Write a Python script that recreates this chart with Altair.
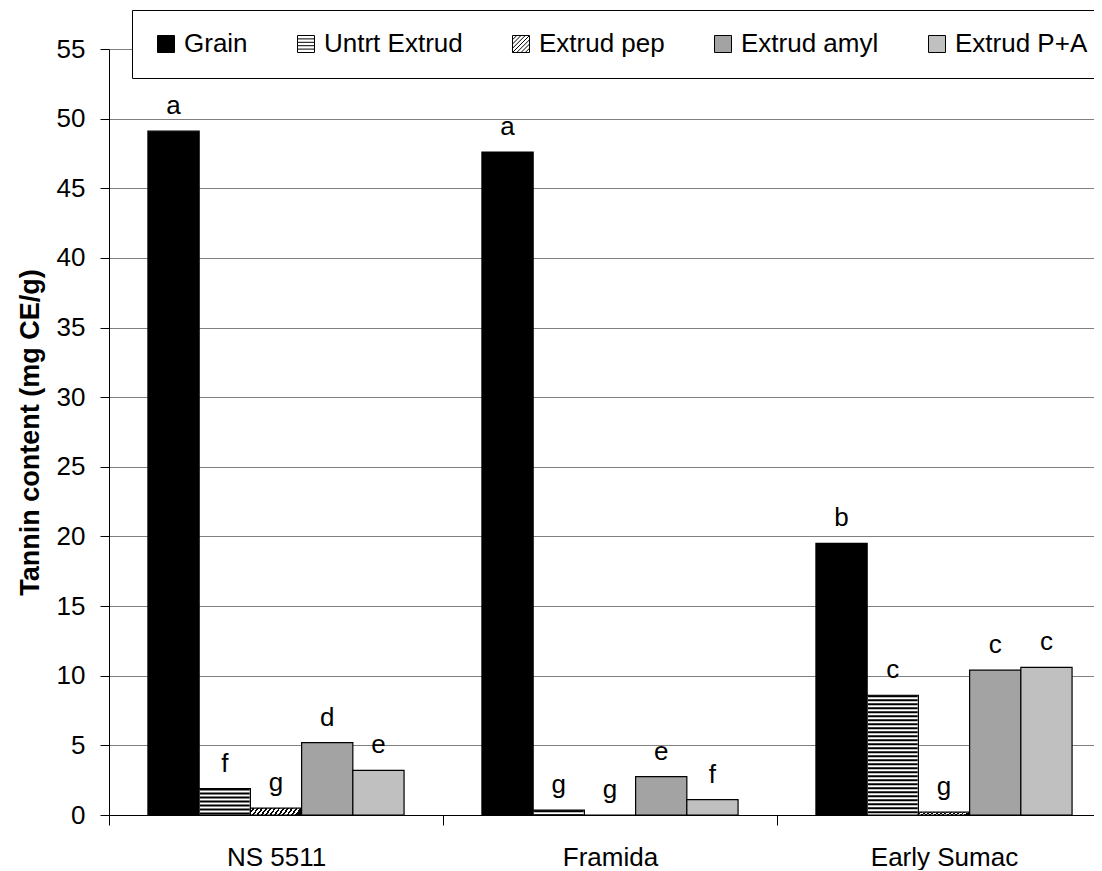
import altair as alt
import pandas as pd

# ---------------- data ----------------
categories = ["NS 5511", "Framida", "Early Sumac"]
series = ["Grain", "Untrt Extrud", "Extrud pep", "Extrud amyl", "Extrud P+A"]

grain = [49.1, 47.6, 19.5]
untrt = [1.9, 0.35, 8.6]
pep = [0.5, 0.0, 0.2]
amyl = [5.2, 2.75, 10.4]
pa = [3.2, 1.1, 10.6]

grain_letters = ["a", "a", "b"]
untrt_letters = ["f", "g", "c"]
pep_letters = ["g", "g", "g"]
amyl_letters = ["d", "e", "c"]
pa_letters = ["e", "f", "c"]

values = [grain, untrt, pep, amyl, pa]
letters = [grain_letters, untrt_letters, pep_letters, amyl_letters, pa_letters]

rows = []
for s, vals, lets in zip(series, values, letters):
    for c, v, l in zip(categories, vals, lets):
        rows.append({"category": c, "series": s, "value": v, "letter": l})
df = pd.DataFrame(rows)

# ---------------- styling ----------------
FONT = "Liberation Sans"
W, H = 985, 766
BAND_RANGE = 1002
OUTER = 0.76
BAR_W = BAND_RANGE / 3 / (5 + 2 * OUTER)

n = 12
stops = []
for i in range(n):
    a = i / n
    b = (i + 0.55) / n
    c = (i + 1) / n
    stops += [
        {"offset": a, "color": "white"},
        {"offset": b, "color": "white"},
        {"offset": b, "color": "black"},
        {"offset": c, "color": "black"},
    ]
pep_grad = {"gradient": "linear", "x1": 0, "y1": 0, "x2": 1, "y2": 0.1, "stops": stops}

AMYL = "#a3a3a3"
PA = "#c0c0c0"

bar_fill = alt.value(
    "white",
    condition=[
        {"test": "datum.series === 'Grain'", "value": "black"},
        {"test": "datum.series === 'Extrud pep'", "value": pep_grad},
        {"test": "datum.series === 'Extrud amyl'", "value": AMYL},
        {"test": "datum.series === 'Extrud P+A'", "value": PA},
    ],
)

legend_shapes = [
    "square",
    "M-1,-1H1V1H-1Z M-1,-0.6H1 M-1,-0.2H1 M-1,0.2H1 M-1,0.6H1",
    "M-1,-1H1V1H-1Z M-1,-0.5L-0.5,-1 M-1,0L0,-1 M-1,0.5L0.5,-1 M-1,1L1,-1 M-0.5,1L1,-0.5 M0,1L1,0 M0.5,1L1,0.5",
    "square",
    "square",
]
legend_fills = ["black", "white", "white", AMYL, PA]

x_enc = alt.X(
    "category:N",
    sort=categories,
    scale=alt.Scale(domain=categories, range=[0, BAND_RANGE], paddingInner=0, paddingOuter=0),
    axis=alt.Axis(
        title=None, labelAngle=0, tickBand="extent", tickSize=10, labelPadding=19,
        labelFontSize=26, labelFont=FONT, labelColor="black",
        domainColor="black", tickColor="black", grid=False,
    ),
)
xoff_enc = alt.XOffset(
    "series:N", sort=series,
    scale=alt.Scale(domain=series, paddingInner=0, paddingOuter=OUTER),
)
y_enc = alt.Y(
    "value:Q",
    scale=alt.Scale(domain=[0, 55], nice=False),
    axis=alt.Axis(
        values=list(range(0, 56, 5)), title="Tannin content (mg CE/g)",
        titleFontSize=27, titleFontWeight="bold", titleFont=FONT, titleColor="black",
        labelFontSize=26, labelFont=FONT, labelColor="black",
        tickSize=9, labelPadding=15, titlePadding=12,
        grid=True, gridColor="#808080", gridWidth=1,
        domainColor="black", tickColor="black",
    ),
)

base = alt.Chart(df)

bars = base.mark_bar(stroke="black", strokeWidth=1.2).encode(
    x=x_enc, xOffset=xoff_enc, y=y_enc, fill=bar_fill
)

stripes = base.transform_filter("datum.series === 'Untrt Extrud'").mark_rule(
    stroke="black", strokeWidth=BAR_W - 1.5, strokeDash=[2, 2], strokeCap="butt"
).encode(x=x_enc, xOffset=xoff_enc, y=y_enc, y2=alt.datum(0))

labels = base.mark_text(
    dy=-17, baseline="alphabetic", fontSize=26, font=FONT, color="black"
).encode(x=x_enc, xOffset=xoff_enc, y=y_enc, text="letter:N")

leg = alt.Legend(
    orient="none", legendX=23, legendY=-39, direction="horizontal", title=None,
    labelFontSize=26, labelFont=FONT, labelColor="black", labelLimit=0,
    symbolSize=289, symbolStrokeWidth=1,
    strokeColor="black", fillColor="white",
    padding=21, columnPadding=45, labelOffset=5,
)

legend_layer = base.transform_filter("false").mark_point(
    filled=True, strokeWidth=1, opacity=1, size=289
).encode(
    x=x_enc, y=y_enc,
    shape=alt.Shape("series:N", sort=series, scale=alt.Scale(domain=series, range=legend_shapes), legend=leg),
    fill=alt.Fill("series:N", sort=series, scale=alt.Scale(domain=series, range=legend_fills), legend=leg),
    stroke=alt.Stroke("series:N", sort=series, scale=alt.Scale(domain=series, range=["black"] * 5), legend=leg),
)

chart = alt.layer(bars, stripes, labels, legend_layer).properties(
    width=W, height=H,
    autosize=alt.AutoSizeParams(type="none"),
    padding={"left": 101, "top": 41, "right": 0, "bottom": 55},
    background="white",
).configure_view(stroke=None)

chart.save("out.html", embed_options={"renderer": "svg", "actions": False})
